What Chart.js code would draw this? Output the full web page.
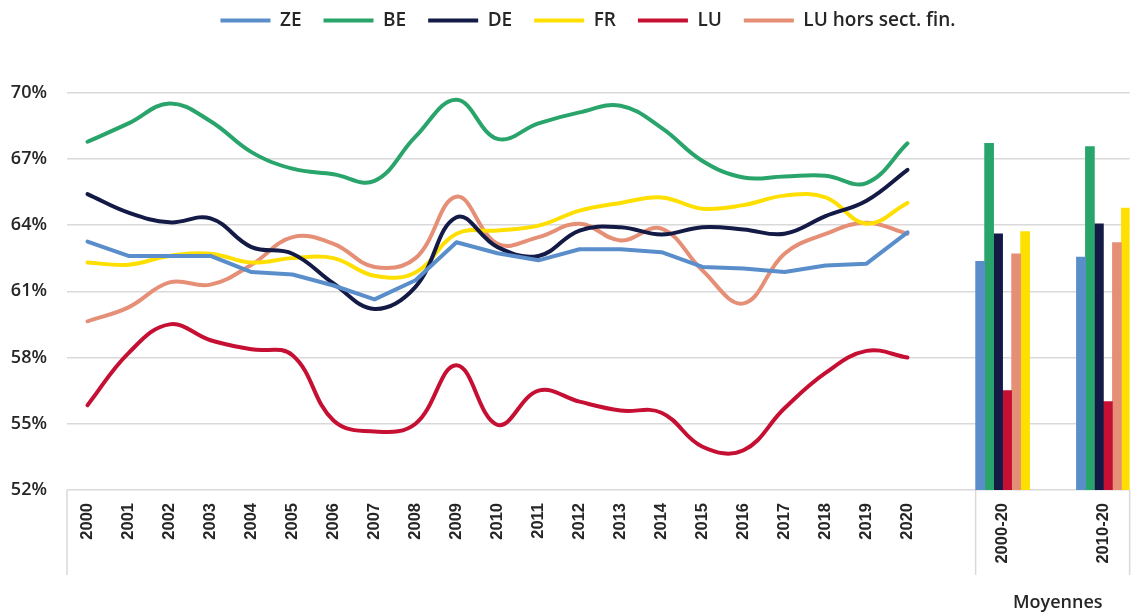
<!DOCTYPE html>
<html lang="fr">
<head>
<meta charset="UTF-8">
<title>Taux</title>
<script src="https://cdn.jsdelivr.net/npm/chart.js@4.4.1/dist/chart.umd.min.js"></script>
<style>
    html, body { margin: 0; padding: 0; background: #fff; overflow: hidden; }
    #wrap { position: relative; width: 1137px; height: 615px; overflow: hidden; }
    /* canvas un peu plus large pour centrer la légende comme l'original */
    #lineBox { position: absolute; left: 0; top: 0; width: 1176px; height: 615px; }
    #barBox { position: absolute; left: 928px; top: 0; width: 209px; height: 615px; }
    #moyennes { position: absolute; left: 1013px; top: 589px; font: 600 18px 'Open Sans', sans-serif; color: #262626; }
</style>
</head>
<body>
<div id="wrap">
    <div id="lineBox"><canvas id="lineChart"></canvas></div>
    <div id="barBox"><canvas id="barChart"></canvas></div>
    <div id="moyennes">Moyennes</div>
</div>
<script>
// données annuelles (%)
const years = ['2000', '2001', '2002', '2003', '2004', '2005', '2006', '2007', '2008', '2009', '2010',
    '2011', '2012', '2013', '2014', '2015', '2016', '2017', '2018', '2019', '2020'];
const ze = [63.25, 62.6, 62.6, 62.6, 61.87, 61.76, 61.26, 60.63, 61.5, 63.22, 62.72, 62.4, 62.9, 62.9, 62.77, 62.1, 62.03, 61.87, 62.17, 62.25, 63.67];
const be = [67.77, 68.6, 69.5, 68.7, 67.3, 66.55, 66.3, 66.0, 68.0, 69.67, 67.9, 68.6, 69.1, 69.4, 68.4, 66.9, 66.15, 66.2, 66.23, 65.9, 67.7];
const de = [65.4, 64.56, 64.12, 64.3, 63.0, 62.7, 61.35, 60.2, 61.2, 64.35, 63.0, 62.6, 63.75, 63.9, 63.57, 63.9, 63.8, 63.6, 64.4, 65.1, 66.5];
const fr = [62.3, 62.2, 62.6, 62.7, 62.3, 62.5, 62.5, 61.7, 61.85, 63.6, 63.75, 63.97, 64.65, 65.0, 65.25, 64.74, 64.9, 65.33, 65.25, 64.06, 65.0];
const lu = [55.84, 58.2, 59.5, 58.78, 58.37, 58.1, 55.15, 54.65, 55.0, 57.65, 54.95, 56.5, 56.0, 55.6, 55.5, 53.96, 53.8, 55.7, 57.3, 58.3, 58.0];
const luHors = [59.64, 60.27, 61.4, 61.3, 62.2, 63.45, 63.15, 62.1, 62.5, 65.28, 63.15, 63.45, 64.06, 63.3, 63.84, 61.94, 60.45, 62.7, 63.6, 64.1, 63.6];

// moyennes
const avgLabels = ['2000-20', '2010-20'];
const avgZE = [62.35, 62.55];
const avgBE = [67.7, 67.55];
const avgDE = [63.6, 64.05];
const avgLU = [56.5, 56.0];
const avgLUHors = [62.7, 63.2];
const avgFR = [63.7, 64.77];

// axe y
const yMin = 52;
const yMax = 70;
const yStep = 3;

const colors = {
    ZE: '#5a8ecb',
    BE: '#29a46b',
    DE: '#131a45',
    FR: '#ffdf00',
    LU: '#c50f33',
    LUH: '#e68f77'
};
const gridColor = '#d9d9d9';
const textColor = '#262626';
const tickFont = { family: "'Liberation Sans', Arial, sans-serif", size: 16.5, weight: 'bold' };
const barWidth = 9;

function lineSet(label, data, color, tension) {
    return {
        label: label,
        data: data,
        borderColor: color,
        backgroundColor: color,
        borderWidth: 4,
        pointRadius: 0,
        pointHoverRadius: 0,
        tension: tension,
        borderCapStyle: 'round',
        borderJoinStyle: 'round',
        fill: false
    };
}

function barSet(label, values, color) {
    return {
        label: label,
        data: avgLabels.map((l, i) => ({ x: i, y: values[i] })),
        backgroundColor: color,
        borderWidth: 0,
        barThickness: barWidth
    };
}

function drawSeparator(chart, x) {
    const ctx = chart.ctx;
    const bottom = chart.chartArea.bottom;
    ctx.save();
    ctx.strokeStyle = gridColor;
    ctx.lineWidth = 1.5;
    ctx.beginPath();
    ctx.moveTo(x, bottom);
    ctx.lineTo(x, bottom + 85);
    ctx.stroke();
    ctx.restore();
}

// graphique des lignes
new Chart(document.getElementById('lineChart'), {
    type: 'line',
    data: {
        labels: years,
        datasets: [
            lineSet('ZE', ze, colors.ZE, 0),
            lineSet('BE', be, colors.BE, 0.4),
            lineSet('DE', de, colors.DE, 0.4),
            lineSet('FR', fr, colors.FR, 0.4),
            lineSet('LU', lu, colors.LU, 0.4),
            lineSet('LU hors sect. fin.', luHors, colors.LUH, 0.4)
        ]
    },
    options: {
        responsive: true,
        maintainAspectRatio: false,
        animation: false,
        layout: { padding: { top: -11, left: 0, right: 0, bottom: 0 } },
        plugins: {
            legend: {
                position: 'top',
                labels: {
                    usePointStyle: true,
                    pointStyle: 'line',
                    pointStyleWidth: 50,
                    padding: 22,
                    color: textColor,
                    font: { family: "'Open Sans', sans-serif", size: 19, weight: '600' }
                }
            },
            tooltip: { enabled: false }
        },
        scales: {
            x: {
                type: 'category',
                offset: true,
                grid: { display: false, drawTicks: false },
                border: { display: false },
                ticks: {
                    minRotation: 90,
                    maxRotation: 90,
                    autoSkip: false,
                    padding: 13,
                    color: textColor,
                    font: tickFont
                },
                afterFit: (s) => { s.height = 125; }
            },
            xTop: {
                type: 'linear',
                position: 'top',
                grid: { display: false, drawTicks: false },
                border: { display: false },
                ticks: { display: false },
                afterFit: (s) => { s.height = 92.5 + 11 - s.chart.legend.height; }
            },
            y: {
                min: yMin,
                max: yMax,
                ticks: {
                    stepSize: yStep,
                    padding: 20,
                    color: textColor,
                    font: { family: "'Open Sans', sans-serif", size: 18, weight: '600' },
                    callback: (v) => v + '%'
                },
                grid: { color: gridColor, lineWidth: 1.5, drawTicks: false },
                border: { display: false },
                afterFit: (s) => { s.width = 67; }
            },
            // réserve la place des moyennes à droite
            yRight: {
                type: 'linear',
                position: 'right',
                grid: { display: false, drawTicks: false },
                border: { display: false },
                ticks: { display: false },
                afterFit: (s) => { s.width = 1176 - 928; }
            }
        }
    },
    plugins: [{
        id: 'leftSeparator',
        afterDraw(chart) {
            drawSeparator(chart, chart.chartArea.left);
        }
    }]
});

// graphique des moyennes
new Chart(document.getElementById('barChart'), {
    type: 'bar',
    data: {
        datasets: [
            barSet('ZE', avgZE, colors.ZE),
            barSet('BE', avgBE, colors.BE),
            barSet('DE', avgDE, colors.DE),
            barSet('LU', avgLU, colors.LU),
            barSet('LU hors sect. fin.', avgLUHors, colors.LUH),
            barSet('FR', avgFR, colors.FR)
        ]
    },
    options: {
        responsive: true,
        maintainAspectRatio: false,
        animation: false,
        layout: { padding: { top: 92.5, right: 6, left: 0, bottom: 0 } },
        plugins: {
            legend: { display: false },
            tooltip: { enabled: false }
        },
        scales: {
            x: {
                type: 'linear',
                bounds: 'data',
                min: -0.74,
                max: 1.26,
                offset: false,
                grid: { display: false, drawTicks: false },
                border: { display: false },
                afterBuildTicks: (s) => { s.ticks = avgLabels.map((l, i) => ({ value: i })); },
                ticks: {
                    minRotation: 90,
                    maxRotation: 90,
                    autoSkip: false,
                    padding: 13,
                    color: textColor,
                    font: tickFont,
                    callback: (v) => avgLabels[v]
                },
                afterFit: (s) => { s.height = 125; }
            },
            y: {
                min: yMin,
                max: yMax,
                ticks: { stepSize: yStep, display: false },
                grid: { color: gridColor, lineWidth: 1.5, drawTicks: false },
                border: { display: false },
                afterFit: (s) => { s.width = 0; }
            }
        }
    },
    plugins: [{
        id: 'rightSeparator',
        afterDraw(chart) {
            const half = barWidth * 6 / 2;
            drawSeparator(chart, chart.scales.x.getPixelForValue(0) - half);
            drawSeparator(chart, chart.chartArea.right);
        }
    }]
});
</script>
</body>
</html>
